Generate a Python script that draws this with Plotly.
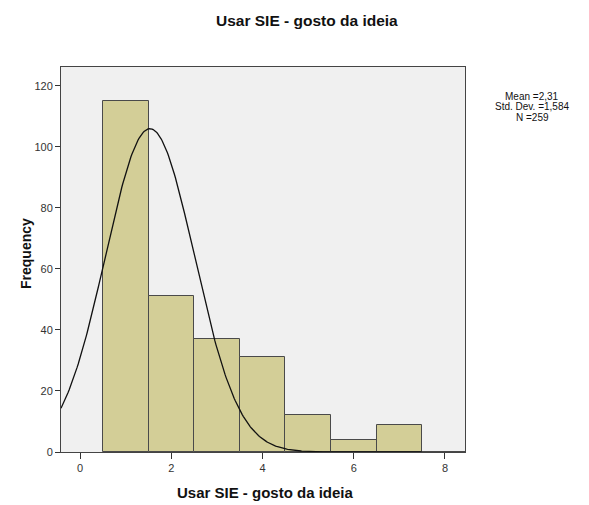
import numpy as np
import plotly.graph_objects as go

categories = [1, 2, 3, 4, 5, 6, 7]
frequencies = [115, 51, 37, 31, 12, 4, 9]
x_ticks = [0, 2, 4, 6, 8]
y_ticks = [0, 20, 40, 60, 80, 100, 120]
stats_lines = ["Mean =2,31", "Std. Dev. =1,584", "N =259"]
curve_mu = 1.53
curve_sigma = 0.975
curve_n = 259

xs = np.linspace(-0.42, 8.44, 400)
ys = curve_n / (curve_sigma * np.sqrt(2 * np.pi)) * np.exp(-0.5 * ((xs - curve_mu) / curve_sigma) ** 2)

W, H = 589, 505
L, R, T, B = 61, 124, 67, 53
pw, ph = W - L - R, H - T - B

def px(x):
    return (x - L) / pw

def py(y):
    return (H - B - y) / ph

fig = go.Figure()
fig.add_trace(go.Bar(x=categories, y=frequencies, width=1,
                     marker=dict(color="#D3CE97", line=dict(color="#4a4a4a", width=1)),
                     showlegend=False))
fig.add_trace(go.Scatter(x=xs, y=ys, mode="lines", line=dict(color="#111111", width=1.3),
                         showlegend=False))

font = "Liberation Sans, Arial, sans-serif"
annotations = [
    dict(text="<b>Usar SIE - gosto da ideia</b>", xref="paper", yref="paper",
         x=px(307), y=py(20), xanchor="center", yanchor="middle", showarrow=False,
         font=dict(family=font, size=15.5, color="#111")),
    dict(text="<b>Usar SIE - gosto da ideia</b>", xref="paper", yref="paper",
         x=px(265), y=py(493), xanchor="center", yanchor="middle", showarrow=False,
         font=dict(family=font, size=15, color="#111")),
    dict(text="<b>Frequency</b>", xref="paper", yref="paper", textangle=-90,
         x=px(26), y=py(254), xanchor="center", yanchor="middle", showarrow=False,
         font=dict(family=font, size=14, color="#111")),
]
for i, line in enumerate(stats_lines):
    annotations.append(dict(text=line, xref="paper", yref="paper",
                            x=px(532), y=py(96 + 10.5 * i), xanchor="center", yanchor="middle",
                            showarrow=False, font=dict(family=font, size=10, color="#111")))

fig.update_layout(
    width=W, height=H,
    margin=dict(l=L, r=R, t=T, b=B),
    paper_bgcolor="white", plot_bgcolor="#F0F0F0",
    bargap=0,
    annotations=annotations,
)
fig.update_xaxes(range=[-0.42, 8.44], tickvals=x_ticks, ticks="outside", ticklen=6,
                 tickcolor="#333", showgrid=False, zeroline=False, automargin=False,
                 showline=True, linecolor="#444", linewidth=1, mirror=True,
                 tickfont=dict(family=font, size=11, color="#333"))
fig.update_yaxes(range=[0, 126.2], tickvals=y_ticks, ticks="outside", ticklen=5,
                 tickcolor="#333", showgrid=False, zeroline=False, automargin=False,
                 showline=True, linecolor="#444", linewidth=1, mirror=True,
                 tickfont=dict(family=font, size=11, color="#333"))

fig.write_html("out.html")
